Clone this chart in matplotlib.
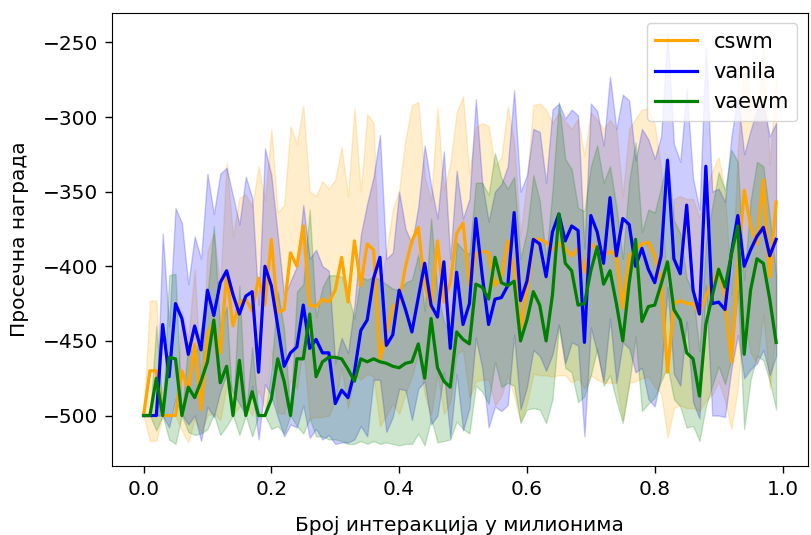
import numpy as np
import matplotlib
matplotlib.use("Agg")
import matplotlib.pyplot as plt

# koraci u milionima interakcija
koraci = np.arange(100) / 100

nazivi = ["cswm", "vanila", "vaewm"]
boje = ["orange", "blue", "green"]

cswm_sr = [-500, -470, -470, -500, -500, -500, -470, -483, -452, -496,
           -445, -438, -458, -405, -440, -424, -422, -430, -408, -426,
           -382, -431, -429, -391, -400, -373, -426, -427, -422, -424,
           -416, -394, -424, -383, -413, -385, -389, -462, -445, -427,
           -424, -400, -383, -374, -413, -428, -383, -424, -411, -378,
           -371, -413, -392, -390, -391, -413, -407, -383, -402, -442,
           -417, -382, -382, -384, -389, -385, -388, -393, -388, -404,
           -385, -389, -393, -390, -393, -428, -393, -389, -385, -384,
           -393, -410, -471, -425, -423, -425, -425, -432, -420, -411,
           -402, -420, -464, -402, -349, -373, -385, -342, -407, -357]
cswm_std = [0, 47, 47, 0, 0, 0, 40, 35, 50, 15,
            55, 60, 45, 75, 60, 70, 70, 70, 75, 70,
            74, 67, 70, 85, 82, 81, 76, 74, 79, 76,
            74, 74, 71, 89, 63, 87, 85, 45, 55, 65,
            75, 85, 91, 84, 73, 72, 89, 75, 80, 81,
            85, 75, 85, 86, 85, 80, 80, 90, 85, 62,
            75, 90, 91, 89, 85, 88, 85, 85, 87, 78,
            88, 87, 85, 88, 85, 75, 85, 88, 90, 90,
            88, 75, 44, 70, 70, 70, 70, 65, 70, 75,
            75, 70, 45, 80, 85, 85, 80, 90, 75, 85]

vanila_sr = [-500, -500, -500, -439, -474, -425, -435, -459, -440, -456,
             -416, -433, -411, -403, -419, -432, -420, -417, -471, -400,
             -413, -440, -467, -458, -454, -426, -455, -449, -458, -458,
             -492, -483, -488, -471, -443, -436, -408, -394, -453, -446,
             -416, -429, -444, -421, -398, -426, -434, -397, -455, -404,
             -439, -425, -368, -406, -439, -422, -421, -413, -364, -423,
             -410, -382, -385, -407, -377, -365, -383, -373, -376, -451,
             -366, -377, -398, -354, -393, -368, -372, -400, -388, -402,
             -411, -393, -329, -395, -405, -359, -416, -432, -333, -425,
             -424, -429, -391, -366, -400, -389, -380, -374, -393, -382]
vanila_std = [0, 0, 0, 61, 34, 64, 64, 47, 60, 61,
              78, 68, 73, 69, 66, 60, 80, 63, 45, 79,
              74, 61, 47, 48, 54, 67, 60, 60, 58, 55,
              27, 35, 30, 45, 64, 78, 68, 82, 58, 55,
              66, 54, 59, 61, 79, 80, 66, 74, 60, 68,
              71, 70, 80, 62, 69, 72, 76, 80, 82, 73,
              71, 74, 75, 63, 82, 74, 82, 78, 77, 63,
              75, 81, 79, 81, 85, 83, 83, 71, 80, 87,
              83, 80, 85, 77, 75, 78, 75, 70, 80, 75,
              76, 72, 78, 80, 75, 80, 85, 82, 80, 78]

vaewm_sr = [-500, -500, -475, -500, -461, -462, -500, -481, -488, -477,
            -464, -436, -478, -467, -500, -463, -500, -484, -500, -500,
            -489, -462, -477, -500, -462, -462, -432, -474, -464, -461,
            -461, -462, -469, -477, -462, -464, -462, -464, -465, -467,
            -468, -465, -464, -452, -475, -435, -468, -477, -481, -444,
            -449, -452, -412, -414, -422, -394, -411, -413, -410, -450,
            -436, -417, -426, -450, -419, -365, -398, -403, -426, -425,
            -403, -387, -412, -403, -425, -450, -411, -382, -437, -427,
            -426, -412, -397, -429, -436, -458, -462, -487, -439, -420,
            -402, -414, -392, -373, -459, -416, -395, -398, -422, -451]
vaewm_std = [0, 0, 35, 0, 55, 57, 0, 30, 25, 35,
             45, 63, 35, 40, 0, 50, 0, 30, 0, 0,
             20, 45, 35, 0, 45, 50, 70, 40, 50, 55,
             55, 55, 50, 42, 55, 55, 55, 55, 53, 52,
             52, 54, 55, 60, 45, 67, 50, 40, 35, 60,
             60, 60, 68, 70, 70, 70, 70, 65, 70, 55,
             60, 78, 70, 55, 70, 75, 70, 68, 65, 62,
             70, 68, 68, 70, 65, 55, 68, 65, 60, 65,
             62, 65, 70, 60, 58, 50, 45, 30, 55, 60,
             65, 65, 70, 43, 50, 60, 65, 65, 55, 45]

srednje = [cswm_sr, vanila_sr, vaewm_sr]
devijacije = [cswm_std, vanila_std, vaewm_std]

plt.rcParams["font.size"] = 14.5

fig, ax = plt.subplots(figsize=(8.11, 5.35), dpi=100)
fig.subplots_adjust(left=0.138, right=0.996, bottom=0.129, top=0.976)

for naziv, boja, sr, dev in zip(nazivi, boje, srednje, devijacije):
    sr = np.array(sr)
    dev = np.array(dev)
    ax.plot(koraci, sr, color=boja, label=naziv, linewidth=2.3)
    ax.fill_between(koraci, sr - dev, sr + dev, color=boja, alpha=0.2)

ax.tick_params(length=5, width=1, pad=5)
ax.set_xlabel("Број интеракција у милионима", labelpad=12)
ax.set_ylabel("Просечна награда", labelpad=10)
ax.set_yticks([-500, -450, -400, -350, -300, -250])
ax.legend(loc="upper right", fontsize=15)

plt.savefig("out.png")
